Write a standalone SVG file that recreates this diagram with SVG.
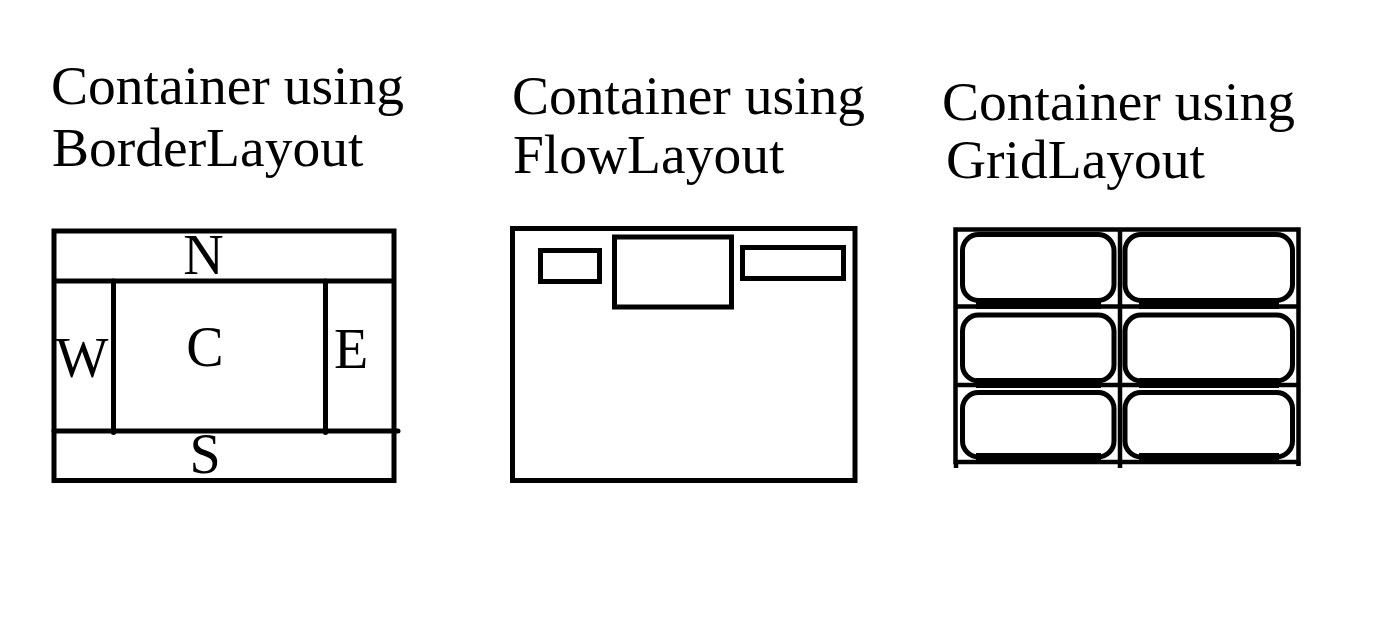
<svg xmlns="http://www.w3.org/2000/svg" width="1392" height="624" viewBox="0 0 1392 624">
<style>
.t{font-family:"Liberation Serif","Times New Roman",serif;font-size:55.5px;fill:#000}
.l{font-family:"Liberation Serif","Times New Roman",serif;font-size:56px;fill:#000;text-anchor:middle}
.b{fill:none;stroke:#000;stroke-width:5}
.g{fill:none;stroke:#000;stroke-width:4.5}
.r{fill:none;stroke:#000;stroke-width:5}
.bb{stroke:#000;stroke-width:10}
</style>
<rect width="1392" height="624" fill="#fff"/>
<g id="title-border"><text class="t" x="51" y="104">Container using</text><text class="t" x="52" y="166">BorderLayout</text></g>
<g id="title-flow"><text class="t" x="512" y="114">Container using</text><text class="t" x="513" y="173">FlowLayout</text></g>
<g id="title-grid"><text class="t" x="942" y="120">Container using</text><text class="t" x="946" y="178">GridLayout</text></g>

<g id="border-layout">
<rect class="b" x="54" y="231" width="340" height="249.5"/>
<line class="b" x1="54" y1="281" x2="394" y2="281"/>
<line class="b" x1="54" y1="431" x2="398" y2="431" stroke-linecap="round"/>
<line class="b" x1="113.5" y1="281" x2="113.5" y2="432.5" stroke-linecap="round"/>
<line class="b" x1="325.5" y1="281" x2="325.5" y2="432.5" stroke-linecap="round"/>
<text class="l" x="203.5" y="274">N</text>
<text class="l" x="82" y="377">W</text>
<text class="l" x="205" y="366">C</text>
<text class="l" x="351" y="368">E</text>
<text class="l" x="205" y="473">S</text>
</g>

<g id="flow-layout">
<rect class="b" x="512.5" y="228.5" width="342.5" height="252"/>
<rect class="b" x="540.5" y="250.5" width="59" height="31"/>
<rect class="b" x="614.5" y="237" width="117" height="70"/>
<rect class="b" x="742.5" y="247.5" width="101" height="31"/>
</g>

<g id="grid-layout">
<rect class="g" x="955.5" y="229.5" width="343" height="232.5"/>
<line class="g" x1="1120" y1="229.5" x2="1120" y2="468"/>
<line class="g" x1="956" y1="462" x2="956" y2="468"/>
<line class="g" x1="1298.5" y1="462" x2="1298.5" y2="466"/>
<line class="g" x1="955.5" y1="306.5" x2="1298.5" y2="306.5"/>
<line class="g" x1="955.5" y1="385" x2="1298.5" y2="385"/>
<rect class="r" x="962.5" y="234.5" width="151.5" height="66" rx="16"/>
<rect class="r" x="1125" y="234.5" width="167.5" height="66" rx="16"/>
<rect class="r" x="962.5" y="315" width="151.5" height="66" rx="16"/>
<rect class="r" x="1125" y="315" width="167.5" height="66" rx="16"/>
<rect class="r" x="962.5" y="392.5" width="151.5" height="64.5" rx="16"/>
<rect class="r" x="1125" y="392.5" width="167.5" height="64.5" rx="16"/>
<line class="bb" x1="976" y1="304" x2="1101" y2="304"/>
<line class="bb" x1="1139" y1="304" x2="1279" y2="304"/>
<line class="bb" x1="976" y1="383" x2="1101" y2="383"/>
<line class="bb" x1="1139" y1="383" x2="1279" y2="383"/>
<line class="bb" x1="976" y1="458" x2="1101" y2="458"/>
<line class="bb" x1="1139" y1="458" x2="1279" y2="458"/>
</g>
</svg>
